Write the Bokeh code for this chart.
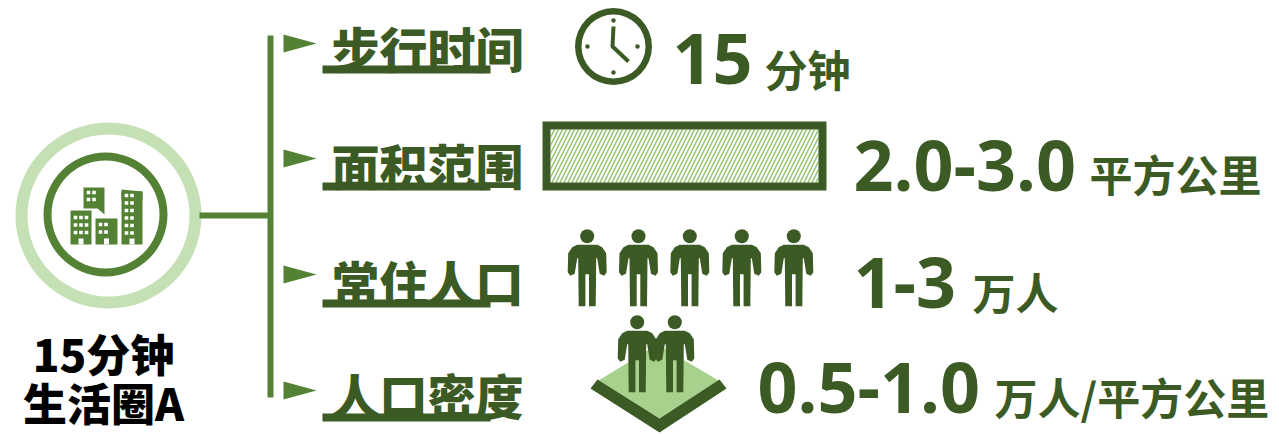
from bokeh.plotting import figure
from bokeh.models import Range1d
from bokeh.core.properties import value
from bokeh.embed import file_html
from bokeh.resources import INLINE

# ---- content ----
labels = ["步行时间", "面积范围", "常住人口", "人口密度"]
label_y = [46, 163, 280, 393]
line_y = [69, 186, 303, 417]
arrow_y = [43, 158, 274, 390]
values = ["15", "2.0-3.0", "1-3", "0.5-1.0"]
value_x = [672, 853, 853, 757]
value_y = [58, 165, 282, 387]
units = ["分钟", "平方公里", "万人", "万人/平方公里"]
unit_x = [764, 1089, 972, 994]
unit_y = [67, 172, 290, 395]
title_lines = ["15分钟", "生活圈A"]
title_y = [352, 401]
person_x = [586.7, 638, 689.3, 741.3, 793.3]
pair_x = [636.7, 674.3]

DARK = "#3B5A24"
MID = "#548235"
LIGHT = "#C5E0B4"
GRASS = "#A9D18E"
FONT = "Noto Sans CJK SC Black"

W, H = 1279, 434
p = figure(width=W, height=H, x_range=Range1d(0, W), y_range=Range1d(H, 0),
           toolbar_location=None, output_backend="svg", min_border=0,
           outline_line_color=None, background_fill_color="white", border_fill_color="white")
p.axis.visible = False
p.grid.visible = False

# emblem
p.annulus(x=[108], y=[215], inner_radius=81, outer_radius=93, fill_color=LIGHT, line_color=None)
p.annulus(x=[105], y=[214], inner_radius=54, outer_radius=62, fill_color=MID, line_color=None)

# buildings
p.patch([83, 104, 104, 97, 83], [187, 187, 214, 208, 208], fill_color=MID, line_color=None)
p.quad(left=[70, 95, 121], right=[91, 117, 142], top=[210, 218, 191], bottom=[244, 244, 244],
       fill_color=MID, line_color=None)
p.patch([121, 142, 142, 121], [189, 191, 200, 200], fill_color=MID, line_color=None)
winx, winy = [], []
for x0, cols, rows, y0, dy in [(75, 3, 3, 217, 7.5), (100, 2, 2, 224, 7.5), (126, 2, 6, 195, 7.5), (88, 2, 2, 192, 7)]:
    for c in range(cols):
        for r in range(rows):
            winx.append(x0 + c * 5.5)
            winy.append(y0 + r * dy)
p.rect(winx, winy, width=3.6, height=3.6, fill_color="white", line_color=None)
p.rect([80.5, 106, 131.5], [241, 241, 241], width=5, height=6, fill_color="white", line_color=None)

# connectors
p.line([199, 270], [215, 215], line_color=MID, line_width=6)
p.line([270, 270], [35, 397], line_color=MID, line_width=6)
for y in arrow_y:
    p.patch([283, 316, 283], [y - 9, y, y + 9], fill_color=MID, line_color=None)

# headings with underline
p.text([331] * 4, label_y, text=labels, text_font=value(FONT), text_font_style="bold",
       text_font_size="48px", text_color=DARK, text_baseline="middle", text_align="left")
p.quad(left=[322] * 4, right=[490] * 4, top=[y - 4 for y in line_y], bottom=[y + 4 for y in line_y],
       fill_color=DARK, line_color=None)

# clock
p.annulus(x=[613], y=[46], inner_radius=32, outer_radius=38.5, fill_color=DARK, line_color=None)
p.line([613, 612, 628], [26, 46, 61], line_color=DARK, line_width=4)
p.circle(x=[613, 637, 613, 587], y=[20, 46, 72, 46], radius=2.2, fill_color=DARK, line_color=None)

# area box
p.quad(left=[550], right=[818], top=[129], bottom=[182], fill_color="white", line_color=None,
       hatch_pattern="right_diagonal_line", hatch_color="#8CC168", hatch_scale=8, hatch_weight=1.4)
p.quad(left=[546], right=[822], top=[125], bottom=[186], fill_color=None, line_color=DARK, line_width=8,
       line_join="miter")

# people
def person(cx, head_y):
    dx = [-10, 10, 15, 19, 19.5, 17, 12.5, 10, 9, 8.5, 1.8, 1.8, -1.8, -1.8, -8.5, -9, -10, -12.5, -17, -19.5, -19, -15]
    dy = [8.5, 8.5, 11, 17, 36, 39.5, 37.5, 22, 22, 70, 70, 38, 38, 70, 70, 22, 22, 37.5, 39.5, 36, 17, 11]
    p.patch([cx + a for a in dx], [head_y + b for b in dy], fill_color=DARK, line_color=None)
    p.circle(x=[cx], y=[head_y], radius=7, fill_color=DARK, line_color=None)

# ground
p.patch([657, 718, 659, 598], [344, 380, 418, 380], fill_color=GRASS, line_color=None)
p.patch([590, 659, 726, 719, 659, 597], [388, 432, 388, 379, 418, 379], fill_color=DARK, line_color=None)

for cx in person_x:
    person(cx, 235.7)
for cx in pair_x:
    person(cx, 321.7)

# values and units
p.text(value_x, value_y, text=values, text_font=value("Open Sans"), text_font_style="bold",
       text_font_size="70px", text_color=DARK, text_baseline="middle", text_align="left")
p.text(unit_x, unit_y, text=units, text_font=value("Noto Sans CJK SC"), text_font_style="bold",
       text_font_size="43px", text_color=DARK, text_baseline="middle", text_align="left")

# title
p.text([103, 103], title_y, text=title_lines, text_font=value(FONT), text_font_style="bold",
       text_font_size="44px", text_color="#000000", text_baseline="middle", text_align="center")

open("out.html", "w").write(file_html(p, INLINE))
